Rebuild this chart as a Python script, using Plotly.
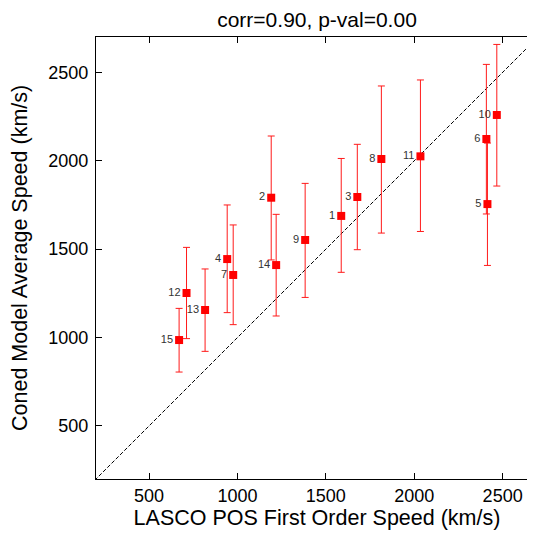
import plotly.graph_objects as go

labels = ["1", "2", "3", "4", "5", "6", "7", "8", "9", "10", "11", "12", "13", "14", "15"]
lasco_speed = [1587, 1191, 1678, 942, 2414, 2408, 976, 1814, 1383, 2467, 2035, 712, 817, 1219, 670]
coned_speed = [1688, 1791, 1795, 1444, 1755, 2123, 1354, 2010, 1552, 2259, 2025, 1252, 1156, 1410, 986]
err_upper = [2013, 2140, 2093, 1750, 2100, 2545, 1637, 2423, 1872, 2658, 2457, 1510, 1388, 1697, 1165]
err_lower = [1369, 1439, 1497, 1141, 1408, 1699, 1073, 1591, 1227, 1857, 1600, 994, 922, 1122, 805]
ticks = [500, 1000, 1500, 2000, 2500]
diag = [0, 3000]

plus = [u - c for u, c in zip(err_upper, coned_speed)]
minus = [c - l for c, l in zip(coned_speed, err_lower)]

FONT = "Liberation Sans, Arial, Helvetica, sans-serif"

fig = go.Figure()
fig.add_trace(go.Scatter(
    x=diag, y=diag, mode="lines",
    line=dict(color="black", width=1, dash="4px,2px"),
    hoverinfo="skip", showlegend=False,
))
fig.add_trace(go.Scatter(
    x=lasco_speed, y=coned_speed, mode="markers+text",
    text=labels, textposition="middle left",
    textfont=dict(family=FONT, size=11, color="#333333"),
    marker=dict(symbol="square", size=8, color="#ff0000", line=dict(width=0)),
    error_y=dict(type="data", symmetric=False, array=plus, arrayminus=minus,
                 color="#ff1a1a", thickness=1, width=3.5),
    showlegend=False,
))

axis_common = dict(
    showgrid=False, zeroline=False, ticks="inside", ticklen=6, tickwidth=1,
    tickcolor="black", linecolor="black", linewidth=1.3, showline=True,
    mirror="ticks", automargin=False,
    tickfont=dict(family=FONT, size=18, color="black"),
    tickvals=ticks,
)
# page body has an 8px margin; figure coordinates are shifted accordingly
H = 526
fig.update_layout(
    width=530, height=H,
    margin=dict(l=88, r=0, t=29, b=55),
    paper_bgcolor="white", plot_bgcolor="white",
    title=dict(text="corr=0.90, p-val=0.00", x=0.5, xref="paper", y=1 - 4 / H, yref="container",
               xanchor="center", yanchor="top", automargin=False, pad=dict(t=0, b=0),
               font=dict(family=FONT, size=21, color="black")),
    xaxis=dict(range=[200, 2700],
               title=dict(text="LASCO POS First Order Speed (km/s)", standoff=4,
                          font=dict(family=FONT, size=21.5, color="black")),
               **axis_common),
    yaxis=dict(range=[200, 2700], ticklabelstandoff=3, **axis_common),
    annotations=[dict(
        text="Coned Model Average Speed (km/s)", textangle=-90,
        xref="paper", yref="paper", x=0, y=0.5, xshift=-76,
        xanchor="center", yanchor="middle", showarrow=False,
        font=dict(family=FONT, size=21.5, color="black"),
    )],
)

fig.write_html("out.html")
